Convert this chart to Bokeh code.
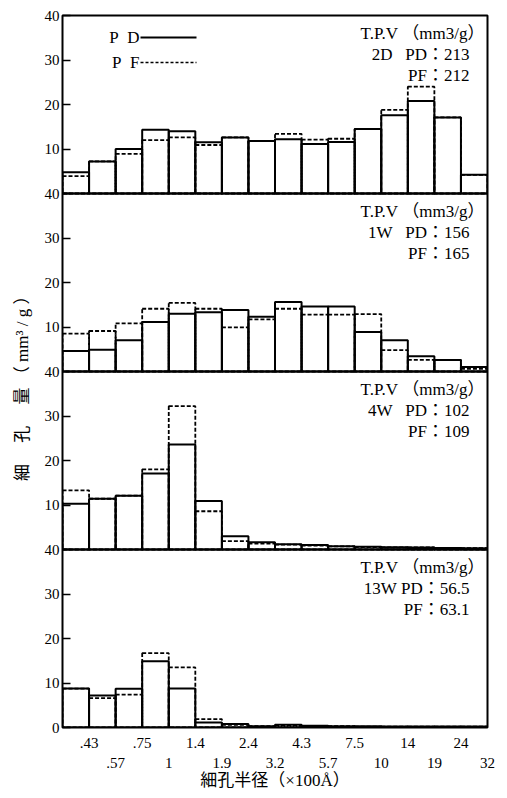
from bokeh.plotting import figure
from bokeh.models import FixedTicker, LinearAxis, Range1d, Span, ColumnDataSource
from bokeh.embed import file_html
from bokeh.resources import INLINE
from bokeh.core.properties import value

# ---------------- data ----------------
bin_labels = [".43", ".57", ".75", "1", "1.4", "1.9", "2.4", "3.2",
              "4.3", "5.7", "7.5", "10", "14", "19", "24", "32"]
samples = ["2D", "1W", "4W", "13W"]          # top to bottom
tpv_pd = ["213", "156", "102", "56.5"]
tpv_pf = ["212", "165", "109", "63.1"]

pd_2d = [4.8, 7.2, 10.0, 14.3, 14.0, 11.5, 12.6, 11.8, 12.2, 11.1, 11.6, 14.5, 17.6, 20.8, 17.1, 4.2]
pf_2d = [3.9, 7.2, 8.9, 12.0, 12.6, 10.9, 12.6, 11.8, 13.4, 12.1, 12.3, 14.5, 18.8, 24.0, 17.1, 4.2]

pd_1w = [4.6, 4.9, 7.0, 11.1, 13.0, 13.3, 13.8, 12.3, 15.6, 14.6, 14.6, 8.9, 7.0, 3.4, 2.6, 1.0]
pf_1w = [8.5, 9.1, 10.8, 14.1, 15.4, 14.1, 9.9, 11.7, 14.1, 12.8, 12.8, 12.9, 4.8, 2.6, 2.6, 0.6]

pd_4w = [10.3, 11.4, 12.1, 17.1, 23.6, 10.9, 3.0, 1.65, 1.2, 1.0, 0.75, 0.6, 0.5, 0.45, 0.35, 0.3]
pf_4w = [13.3, 11.4, 12.1, 18.0, 32.2, 8.6, 1.9, 1.3, 1.1, 0.85, 0.7, 0.55, 0.5, 0.45, 0.35, 0.3]

pd_13w = [8.75, 7.2, 8.7, 14.9, 8.75, 1.1, 0.8, 0.3, 0.6, 0.4, 0.3, 0.3, 0.2, 0.2, 0.2, 0.2]
pf_13w = [8.75, 6.6, 7.4, 16.7, 13.5, 1.9, 0.6, 0.3, 0.4, 0.3, 0.3, 0.2, 0.2, 0.2, 0.2, 0.2]

pd_series = [pd_2d, pd_1w, pd_4w, pd_13w]
pf_series = [pf_2d, pf_1w, pf_4w, pf_13w]

panel_max = 40
panel_ticks = [10, 20, 30, 40]

# ---------------- figure ----------------
n_bins = len(bin_labels)
n_pan = len(samples)
SERIF = "Liberation Serif, Noto Sans CJK JP"
NB = "\u00a0"

p = figure(width=499, height=792, output_backend="svg", toolbar_location=None,
           x_range=Range1d(0, n_bins), y_range=Range1d(0, panel_max * n_pan),
           min_border_left=62, min_border_right=12, min_border_top=15,
           min_border_bottom=64)
p.grid.visible = False
p.outline_line_color = "black"
p.outline_line_width = 2
p.background_fill_color = "white"
p.border_fill_color = "white"

# y axis: each panel 0-40
yt = [0]
over = {0: "0"}
for k in range(n_pan):
    for t in panel_ticks:
        v = k * panel_max + t
        yt.append(v)
        over[v] = str(t)
p.yaxis.ticker = FixedTicker(ticks=yt)
p.yaxis.major_label_overrides = over
p.yaxis.major_tick_in = 8
p.yaxis.major_tick_out = 0
p.yaxis.major_tick_line_width = 1.5
p.yaxis.minor_tick_line_color = None
p.yaxis.axis_line_color = None
p.yaxis.major_label_standoff = 3
p.yaxis.major_label_text_font = SERIF
p.yaxis.major_label_text_font_size = "15px"
p.yaxis.major_label_text_color = "black"
p.yaxis.axis_label = ("細\u3000" + NB + "孔\u3000" + NB + "量" + NB + "（" + NB + "mm³" + NB + "/" + NB + "g" + NB + "）"
                      + "\u3000\u3000")
p.yaxis.axis_label_text_font = SERIF
p.yaxis.axis_label_text_font_size = "17px"
p.yaxis.axis_label_text_font_style = "normal"
p.yaxis.axis_label_text_color = "black"
p.yaxis.axis_label_standoff = 10

# x axis: staggered labels at bin edges
xa = p.xaxis[0]
odd = list(range(1, n_bins + 1, 2))
even = list(range(2, n_bins + 1, 2))
xa.ticker = FixedTicker(ticks=odd)
xa.major_label_overrides = {i: bin_labels[i - 1] for i in odd}
xb = LinearAxis(ticker=FixedTicker(ticks=even),
                major_label_overrides={i: bin_labels[i - 1] for i in even})
p.add_layout(xb, "below")
for ax in (xa, xb):
    ax.axis_line_color = None
    ax.major_tick_line_color = None
    ax.minor_tick_line_color = None
    ax.major_label_text_font = SERIF
    ax.major_label_text_font_size = "15px"
    ax.major_label_text_color = "black"
xa.major_label_standoff = 4
xb.major_label_standoff = 1
xb.axis_label = "細孔半径（×100Å）"
xb.axis_label_text_font = SERIF
xb.axis_label_text_font_size = "17px"
xb.axis_label_text_font_style = "normal"
xb.axis_label_text_color = "black"
xb.axis_label_standoff = 0

# panel separators
for k in range(1, n_pan):
    p.add_layout(Span(location=k * panel_max, dimension="width",
                      line_color="black", line_width=2))

# bars
def bars(series_list):
    L, R, B, T = [], [], [], []
    for k, s in enumerate(series_list):
        off = (n_pan - 1 - k) * panel_max
        for i, v in enumerate(s):
            L.append(i); R.append(i + 1); B.append(off); T.append(off + v)
    return ColumnDataSource(dict(left=L, right=R, bottom=B, top=T))

p.quad(left="left", right="right", bottom="bottom", top="top", source=bars(pf_series),
       fill_color=None, line_color="black", line_width=1.8, line_dash="4 2")
p.quad(left="left", right="right", bottom="bottom", top="top", source=bars(pd_series),
       fill_color=None, line_color="black", line_width=2)

# per-panel T.P.V annotation
px = panel_max / 178.25  # data units per pixel (vertical)
xx = 1 / 26.5625         # data units per pixel (horizontal)
tx1, ty1, tx2, ty2, tx3, ty3, t1, t2, t3 = [], [], [], [], [], [], [], [], []
for k, s in enumerate(samples):
    top = (n_pan - k) * panel_max
    gap = NB * 3 if len(s) < 3 else NB
    t1.append("T.P.V" + NB + "（mm3/g）"); tx1.append(n_bins - 3 * xx); ty1.append(top - 18 * px)
    t2.append(f"{s}{gap}PD：{tpv_pd[k]}"); tx2.append(n_bins - 18 * xx); ty2.append(top - 39 * px)
    t3.append(f"PF：{tpv_pf[k]}"); tx3.append(n_bins - 18 * xx); ty3.append(top - 60 * px)
p.text(x=tx1 + tx2 + tx3, y=ty1 + ty2 + ty3, text=t1 + t2 + t3,
       text_align="right", text_baseline="middle", text_font=value(SERIF),
       text_font_size="17px", text_color="black")

# legend (label left of line)
top = n_pan * panel_max
p.text(x=[(139 - 62) * xx] * 2, y=[top - 22 * px, top - 47 * px],
       text=["P" + NB + NB + "D", "P" + NB + NB + "F"],
       text_align="right", text_baseline="middle", text_font=value(SERIF),
       text_font_size="17px", text_color="black")
p.segment(x0=[(140 - 62) * xx], x1=[(196 - 62) * xx], y0=[top - 22 * px], y1=[top - 22 * px],
          line_color="black", line_width=2)
p.segment(x0=[(140 - 62) * xx], x1=[(196 - 62) * xx], y0=[top - 47 * px], y1=[top - 47 * px],
          line_color="black", line_width=1.5, line_dash="3 2")

open("out.html", "w").write(file_html(p, INLINE))
